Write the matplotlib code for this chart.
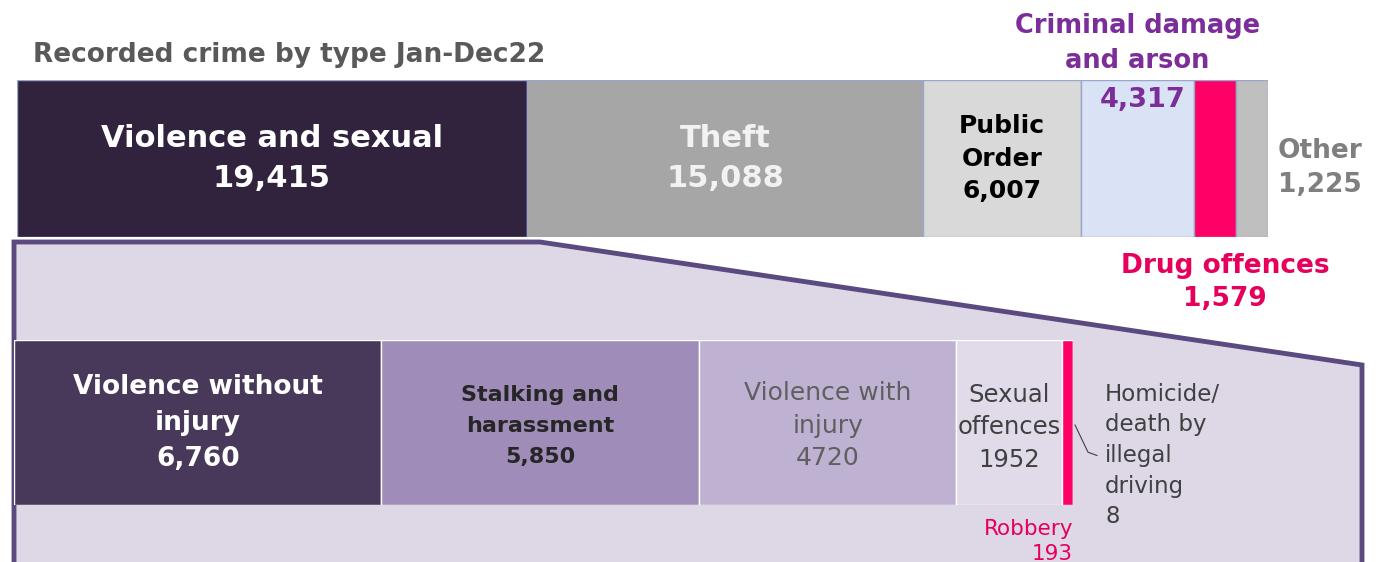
import numpy as np
import matplotlib.pyplot as plt
from matplotlib.patches import Polygon

# recorded crime Jan-Dec22, top level
top_cats = ['Violence and sexual', 'Theft', 'Public Order',
            'Criminal damage and arson', 'Drug offences', 'Other']
top_vals = [19415, 15088, 6007, 4317, 1579, 1225]
top_cols = ['#31233d', '#a6a6a6', '#d9d9d9', '#dae3f5', '#ff0066', '#bfbfbf']

# breakdown of violence and sexual
sub_cats = ['Violence without injury', 'Stalking and harassment', 'Violence with injury',
            'Sexual offences', 'Robbery', 'Homicide/death by illegal driving']
sub_vals = [6760, 5850, 4720, 1952, 193, 8]
sub_cols = ['#48385a', '#a08cb8', '#bfb1d1', '#e1dbe9', '#ff0066', '#ff0066']

W, H = 1376, 562
fig = plt.figure(figsize=(W / 100, H / 100), dpi=100)
plt.rcParams['font.family'] = ['DejaVu Sans']


def px_rect(x0, y0, x1, y1):
    return [x0 / W, 1 - y1 / H, (x1 - x0) / W, (y1 - y0) / H]


# background zoom polygon
bg = fig.add_axes([0, 0, 1, 1])
bg.set_xlim(0, W)
bg.set_ylim(H, 0)
bg.axis('off')
poly = Polygon([(14, 600), (14, 242), (540, 242), (1362, 365), (1362, 600)],
               closed=True, facecolor='#ddd7e6', edgecolor='#5b4a80', linewidth=3.5)
bg.add_patch(poly)
bg.text(33, 55, 'Recorded crime by type Jan-Dec22', fontsize=19, fontweight='bold',
        color='#595959', ha='left', va='center')

# top bar
ax1 = fig.add_axes(px_rect(17, 80, 1268, 237))
left = np.concatenate([[0], np.cumsum(top_vals)[:-1]])
ax1.barh(0, top_vals, left=left, color=top_cols, height=1, edgecolor='#9aa6cc', linewidth=1)
tot = sum(top_vals)
ax1.set_xlim(0, tot)
ax1.set_ylim(-0.5, 0.5)
ax1.axis('off')
ax1.set_zorder(2)

mid = left + np.array(top_vals) / 2
ax1.text(mid[0], 0.0, 'Violence and sexual\n19,415', color='white', fontsize=22,
         fontweight='bold', ha='center', va='center', linespacing=1.48)
ax1.text(mid[1], 0.0, 'Theft\n15,088', color='#f2f2f2', fontsize=22,
         fontweight='bold', ha='center', va='center', linespacing=1.48)
ax1.text(mid[2], 0.0, 'Public\nOrder\n6,007', color='black', fontsize=18,
         fontweight='bold', ha='center', va='center', linespacing=1.45)
ax1.text(mid[3], 0.73, 'Criminal damage\nand arson', color='#7b2d9a', fontsize=18.5,
         fontweight='bold', ha='center', va='center', linespacing=1.45, clip_on=False)
ax1.text(mid[3] + 200, 0.37, '4,317', color='#7b2d9a', fontsize=19.5,
         fontweight='bold', ha='center', va='center')
ax1.text(mid[4] + 380, -0.79, 'Drug offences\n1,579', color='#e6005c', fontsize=19,
         fontweight='bold', ha='center', va='center', linespacing=1.33, clip_on=False)
ax1.text(tot + 1980, -0.06, 'Other\n1,225', color='#7f7f7f', fontsize=19,
         fontweight='bold', ha='center', va='center', linespacing=1.4, clip_on=False)

# breakdown bar
ax2 = fig.add_axes(px_rect(14, 340, 1073, 505))
left2 = np.concatenate([[0], np.cumsum(sub_vals)[:-1]])
ax2.barh(0, sub_vals, left=left2, color=sub_cols, height=1, edgecolor='white', linewidth=1)
tot2 = sum(sub_vals)
ax2.set_xlim(0, tot2)
ax2.set_ylim(-0.5, 0.5)
ax2.axis('off')
ax2.set_zorder(2)

mid2 = left2 + np.array(sub_vals) / 2
ax2.text(mid2[0], 0.0, 'Violence without\ninjury\n6,760', color='white', fontsize=19,
         fontweight='bold', ha='center', va='center', linespacing=1.5)
ax2.text(mid2[1], -0.02, 'Stalking and\nharassment\n5,850', color='#262626', fontsize=16,
         fontweight='bold', ha='center', va='center', linespacing=1.68)
ax2.text(mid2[2], -0.02, 'Violence with\ninjury\n4720', color='#5f5f5f', fontsize=18,
         ha='center', va='center', linespacing=1.45)
ax2.text(mid2[3], -0.03, 'Sexual\noffences\n1952', color='#404040', fontsize=17.5,
         ha='center', va='center', linespacing=1.44)
ax2.text(tot2, -0.72, 'Robbery\n193', color='#e6005c', fontsize=15.5,
         ha='right', va='center', multialignment='right', linespacing=1.32, clip_on=False)
ax2.text(tot2 + 590, -0.2, 'Homicide/\ndeath by\nillegal\ndriving\n8', color='#404040',
         fontsize=16.5, ha='left', va='center', linespacing=1.42, clip_on=False)
ax2.plot([tot2 + 37, tot2 + 276, tot2 + 441], [-0.015, -0.18, -0.2],
         color='#404040', linewidth=0.8, clip_on=False)

fig.savefig('out.png', dpi=100)
